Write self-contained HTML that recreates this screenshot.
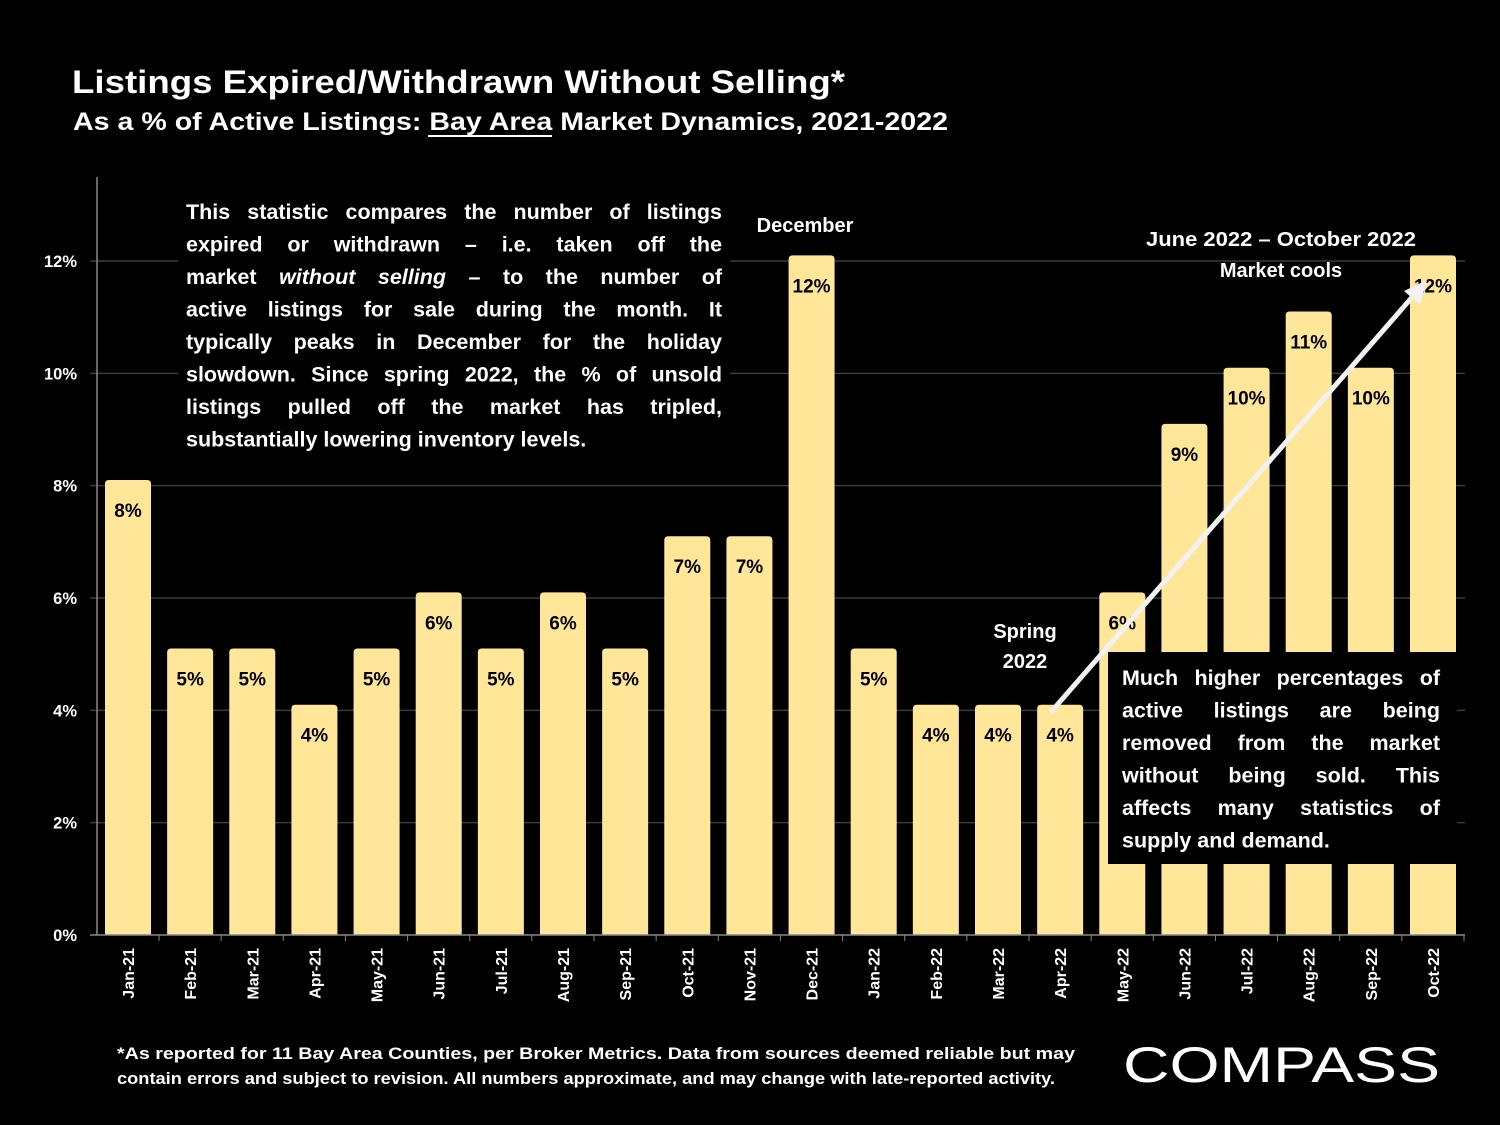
<!DOCTYPE html>
<html><head><meta charset="utf-8"><style>
html,body{margin:0;padding:0;background:#000;}
svg{display:block;font-family:"Liberation Sans",sans-serif;font-weight:bold;}
</style></head><body>
<svg id="chart" width="1500" height="1125" viewBox="0 0 1500 1125" xmlns="http://www.w3.org/2000/svg">
<rect width="1500" height="1125" fill="#000"/>
<text x="72" y="93" fill="#fff" font-size="32" textLength="773" lengthAdjust="spacingAndGlyphs">Listings Expired/Withdrawn Without Selling*</text>
<text x="73" y="130" fill="#fff" font-size="25" textLength="875" lengthAdjust="spacingAndGlyphs">As a % of Active Listings: Bay Area Market Dynamics, 2021-2022</text>
<line x1="428" y1="136" x2="552" y2="136" stroke="#fff" stroke-width="2"/>
<g id="grid"></g>
<g id="yaxis"></g>
<g id="bars"></g>
<g id="xaxis"></g>
<rect x="178" y="190" width="552" height="268" fill="#000"/>
<g id="intro" fill="#fff" font-size="21.5"></g>
<rect x="1108" y="652" width="349" height="212" fill="#000"/>
<g id="note" fill="#fff" font-size="21.5"></g>
<text x="805" y="232" fill="#fff" font-size="20" text-anchor="middle">December</text>
<text x="1281" y="246" fill="#fff" font-size="20" text-anchor="middle" textLength="270" lengthAdjust="spacingAndGlyphs">June 2022 – October 2022</text>
<text x="1281" y="277" fill="#fff" font-size="20" text-anchor="middle">Market cools</text>
<text x="1025" y="638" fill="#fff" font-size="20" text-anchor="middle">Spring</text>
<text x="1025" y="668" fill="#fff" font-size="20" text-anchor="middle">2022</text>
<line x1="1051" y1="712" x2="1414" y2="295" stroke="#f2f2f2" stroke-width="5"/>
<polygon points="1427,280 1420,305 1404,291" fill="#f2f2f2"/>
<text x="117" y="1059" fill="#fff" font-size="16.5" textLength="958" lengthAdjust="spacingAndGlyphs">*As reported for 11 Bay Area Counties, per Broker Metrics. Data from sources deemed reliable but may</text>
<text x="117" y="1084" fill="#fff" font-size="16.5" textLength="938" lengthAdjust="spacingAndGlyphs">contain errors and subject to revision. All numbers approximate, and may change with late-reported activity.</text>
<text x="1123" y="1082" fill="#fff" font-size="50" font-weight="normal" textLength="317" lengthAdjust="spacingAndGlyphs">COMPASS</text>
</svg>
<script>
const categories=["Jan-21","Feb-21","Mar-21","Apr-21","May-21","Jun-21","Jul-21","Aug-21","Sep-21","Oct-21","Nov-21","Dec-21","Jan-22","Feb-22","Mar-22","Apr-22","May-22","Jun-22","Jul-22","Aug-22","Sep-22","Oct-22"];
const values=[8.1,5.1,5.1,4.1,5.1,6.1,5.1,6.1,5.1,7.1,7.1,12.1,5.1,4.1,4.1,4.1,6.1,9.1,10.1,11.1,10.1,12.1];
const valueLabels=["8%","5%","5%","4%","5%","6%","5%","6%","5%","7%","7%","12%","5%","4%","4%","4%","6%","9%","10%","11%","10%","12%"];
const yTicks=[0,2,4,6,8,10,12];
const yTickLabels=["0%","2%","4%","6%","8%","10%","12%"];
const introLines=["This statistic compares the number of listings","expired or withdrawn – i.e. taken off the","market <tspan font-style='italic'>without selling</tspan> – to the number of","active listings for sale during the month. It","typically peaks in December for the holiday","slowdown. Since spring 2022, the % of unsold","listings pulled off the market has tripled,","substantially lowering inventory levels."];
const noteLines=["Much higher percentages of","active listings are being","removed from the market","without being sold. This","affects many statistics of","supply and demand."];
const NS="http://www.w3.org/2000/svg";
const y0=935, pxPer=(935-261)/12;
const y=v=>y0-v*pxPer;
const x=i=>128+i*(1433-128)/21;
const bw=46;
function mk(t,a,p){const e=document.createElementNS(NS,t);for(const k in a)e.setAttribute(k,a[k]);p.appendChild(e);return e;}
const grid=document.getElementById('grid'),ya=document.getElementById('yaxis'),bars=document.getElementById('bars'),xa=document.getElementById('xaxis');
yTicks.forEach((t,i)=>{
 if(t>0){const g=mk('line',{x1:90,x2:1465,y1:y(t),y2:y(t),stroke:'#3a3a3a','stroke-width':1.5},grid);
 
 }
 const tl=mk('text',{x:77,y:y(t)+6,fill:'#fff','font-size':16.5,'text-anchor':'end'},ya);tl.textContent=yTickLabels[i];
 
 
});
const ax=mk('line',{x1:97,x2:97,y1:177,y2:935,stroke:'#888','stroke-width':1.5},ya);


const xl=mk('line',{x1:90,x2:1465,y1:935,y2:935,stroke:'#888','stroke-width':1.5},xa);


categories.forEach((c,i)=>{
 const cx=x(i);
 const r=mk('path',{d:`M${cx-bw/2},${y0} V${y(values[i])+4} Q${cx-bw/2},${y(values[i])} ${cx-bw/2+4},${y(values[i])} H${cx+bw/2-4} Q${cx+bw/2},${y(values[i])} ${cx+bw/2},${y(values[i])+4} V${y0} Z`,fill:'#FFE699'},bars);
 
 
 const vl=mk('text',{x:cx,y:y(values[i])+37,fill:'#000','font-size':19,'text-anchor':'middle'},bars);vl.textContent=valueLabels[i];
 
 
 const tk=mk('line',{x1:cx+31,x2:cx+31,y1:935,y2:941,stroke:'#888'},xa);
 
 
 const t=mk('text',{transform:`translate(${cx+6},948) rotate(-90)`,fill:'#fff','font-size':16,'text-anchor':'end'},xa);t.textContent=c;
 
 
});
function justify(lines,g,x0,y0,lh,w,name){
 lines.forEach((l,i)=>{
  const t=mk('text',{x:x0,y:y0+i*lh},g);t.innerHTML=l;
  
  
  if(i<lines.length-1){
   const len=t.getComputedTextLength();
   const gaps=(t.textContent.match(/ /g)||[]).length;
   if(gaps>0)t.setAttribute('word-spacing',((w-len)/gaps).toFixed(2));
  }
 });
}
justify(introLines,document.getElementById('intro'),186,219,32.5,536,'intro-line');
justify(noteLines,document.getElementById('note'),1122,685,32.5,318,'note-line');
</script>
</body></html>
